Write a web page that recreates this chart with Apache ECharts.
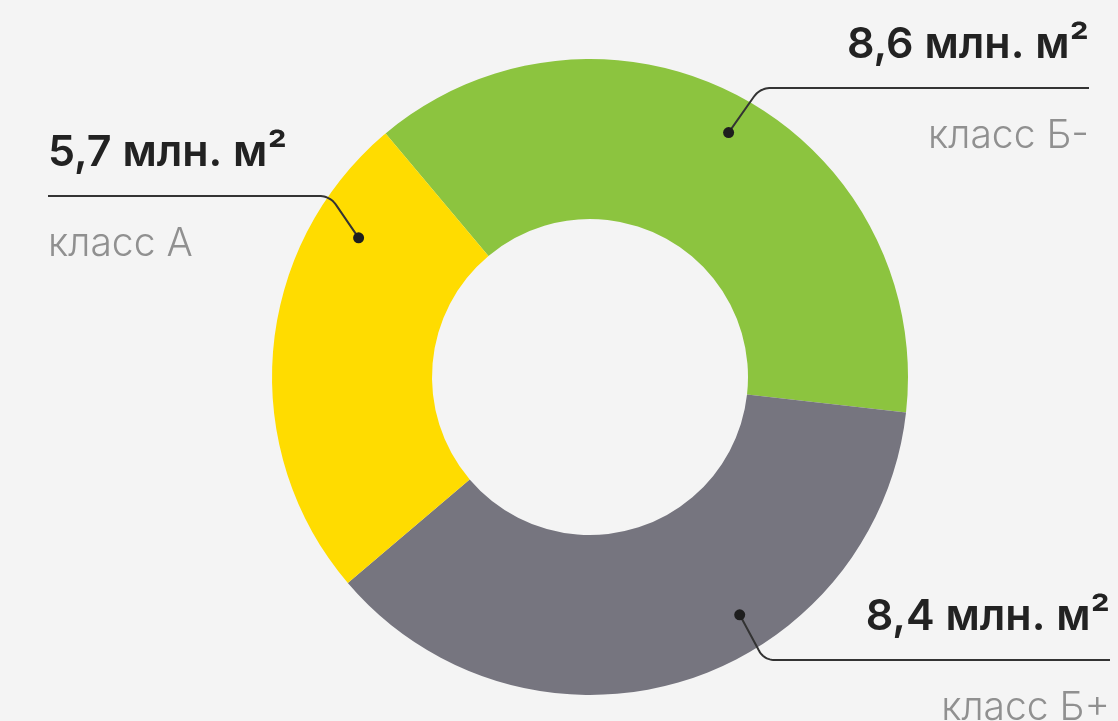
<!DOCTYPE html>
<html><head><meta charset="utf-8">
<script src="https://cdn.jsdelivr.net/npm/echarts@6/dist/echarts.min.js"></script>
<style>html,body{margin:0;padding:0;background:#f4f4f4}#c{width:1118px;height:721px}</style>
</head><body><div id="c"></div>
<script>
// data
const categories = ['класс Б-', 'класс Б+', 'класс А'];
const values = [8.6, 8.4, 5.7];
const valueLabels = ['8,6 млн. м²', '8,4 млн. м²', '5,7 млн. м²'];

// styles / layout
const colors = ['#8cc43f', '#76757f', '#ffdc00'];
const CX = 590, CY = 377, R0 = 158, R1 = 318, START = 130;
const anchors = [
  {frac: 0.51, r: 281, lineY: 88, cornerX: 760, endX: 1089, align: 'right'},
  {frac: 0.386, r: 281, lineY: 660, cornerX: 764, endX: 1110, align: 'right'},
  {frac: 0.79, r: 270, lineY: 196, cornerX: 330, endX: 48, align: 'left'}
];
const BEND = 11;

const total = values.reduce((a, b) => a + b, 0);
function dotPos(i) {
  let acc = 0;
  for (let k = 0; k < i; k++) acc += values[k];
  const clock = (90 - START) + (acc + anchors[i].frac * values[i]) / total * 360;
  const rad = clock * Math.PI / 180;
  return [CX + anchors[i].r * Math.sin(rad), CY - anchors[i].r * Math.cos(rad)];
}
function leaderPoints(i) {
  const a = anchors[i], d = dotPos(i);
  const cx = a.cornerX, cy = a.lineY;
  const vx = d[0] - cx, vy = d[1] - cy, len = Math.hypot(vx, vy);
  const p1 = [cx + vx / len * BEND, cy + vy / len * BEND];
  const s = Math.sign(a.endX - cx);
  const p2 = [cx + s * BEND, cy];
  const pts = [d, p1];
  for (let k = 1; k < 12; k++) {
    const t = k / 12, u = 1 - t;
    pts.push([u * u * p1[0] + 2 * u * t * cx + t * t * p2[0], u * u * p1[1] + 2 * u * t * cy + t * t * p2[1]]);
  }
  pts.push(p2, [a.endX, cy]);
  return pts;
}

const chart = echarts.init(document.getElementById('c'), null, {renderer: 'canvas'});
const graphics = [];
values.forEach((v, i) => {
  graphics.push({type: 'polyline', z: 99, shape: {points: leaderPoints(i)},
    style: {fill: null, stroke: '#333333', lineWidth: 2}});
  const d = dotPos(i);
  graphics.push({type: 'circle', z: 100, shape: {cx: d[0], cy: d[1], r: 5.5}, style: {fill: '#1e1e1e'}});
});
chart.setOption({
  backgroundColor: '#f4f4f4',
  animation: false,
  series: [{
    type: 'pie',
    center: [CX, CY],
    radius: [R0, R1],
    startAngle: START,
    clockwise: true,
    silent: true,
    avoidLabelOverlap: false,
    data: categories.map((c, i) => ({name: c, value: values[i], itemStyle: {color: colors[i]}})),
    label: {
      show: true,
      position: 'outside',
      formatter: p => '{v|' + valueLabels[p.dataIndex] + '}\n{c|' + p.name + '}',
      rich: {
        v: {fontFamily: 'Inter', fontSize: 43, fontWeight: 600, color: '#222222', lineHeight: 91},
        c: {fontFamily: 'Inter', fontSize: 39, fontWeight: 300, color: '#909090', lineHeight: 91}
      }
    },
    labelLine: {show: false},
    labelLayout: p => {
      const a = anchors[p.dataIndex];
      return {x: a.endX, y: a.lineY + 2.5, align: a.align, verticalAlign: 'middle'};
    }
  }],
  graphic: graphics
});
</script>
</body></html>
